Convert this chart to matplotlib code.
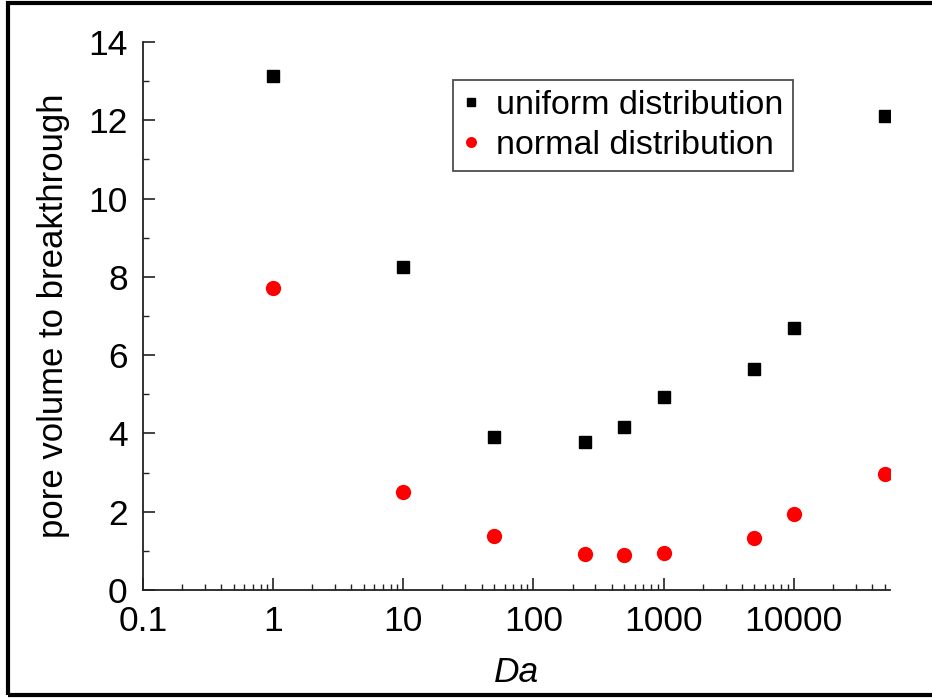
import matplotlib
matplotlib.use("Agg")
import matplotlib.pyplot as plt
from matplotlib.ticker import LogLocator, NullFormatter, MultipleLocator
from matplotlib.patches import Rectangle

plt.rcParams['font.family'] = ['Liberation Sans', 'DejaVu Sans']

da = [1, 10, 50, 250, 500, 1000, 5000, 10000, 50000]
uniform = [13.13, 8.25, 3.91, 3.78, 4.16, 4.93, 5.65, 6.69, 12.12]
normal = [7.72, 2.50, 1.38, 0.92, 0.89, 0.95, 1.33, 1.94, 2.96]
xticks = [0.1, 1, 10, 100, 1000, 10000]
xticklabels = ["0.1", "1", "10", "100", "1000", "10000"]

fig = plt.figure(figsize=(9.32, 6.98), dpi=100)
ax = fig.add_axes([143/932, 1-590/698, (890-143)/932, (590-42)/698])

ax.plot(da, uniform, linestyle='none', marker='s', color='black', markersize=8.8, label='uniform distribution')
ax.plot(da, normal, linestyle='none', marker='o', color='red', markersize=11, markeredgewidth=0, label='normal distribution')

ax.set_xscale('log')
ax.set_xlim(0.1, 55000)
ax.set_ylim(0, 14)
ax.set_xticks(xticks)
ax.set_xticklabels(xticklabels)
ax.xaxis.set_minor_locator(LogLocator(base=10, subs=range(2, 10), numticks=20))
ax.xaxis.set_minor_formatter(NullFormatter())
ax.yaxis.set_major_locator(MultipleLocator(2))
ax.yaxis.set_minor_locator(MultipleLocator(1))

for s in ['top', 'right']:
    ax.spines[s].set_visible(False)
for s in ['left', 'bottom']:
    ax.spines[s].set_linewidth(1.3)
    ax.spines[s].set_color('#222222')

ax.tick_params(which='major', direction='in', length=8.5, width=1.2, labelsize=25.5, colors='#222222', labelcolor='black')
ax.tick_params(which='minor', direction='in', length=4.5, width=1.0, colors='#222222')
ax.tick_params(axis='x', which='major', pad=10.5)
ax.tick_params(axis='y', which='major', pad=11)

ax.set_xlabel('Da', fontstyle='italic', fontsize=25.5, labelpad=13)
ax.set_ylabel('pore volume to breakthrough', fontsize=25, labelpad=13)

leg = ax.legend(loc='upper left', bbox_to_anchor=((453-143)/747, 1-(80-42)/548), fontsize=24.5,
                frameon=True, fancybox=False, edgecolor='#222222', handlelength=0.45,
                handletextpad=0.5, borderpad=0.3, labelspacing=0.25, borderaxespad=0,
                markerscale=0.72)
leg.get_frame().set_linewidth(1.3)

fig.patches.append(Rectangle((8/932, 3/698), 1.0, 1-6/698, transform=fig.transFigure,
                             fill=False, edgecolor='black', linewidth=3, figure=fig))

fig.savefig('out.png', dpi=100)
